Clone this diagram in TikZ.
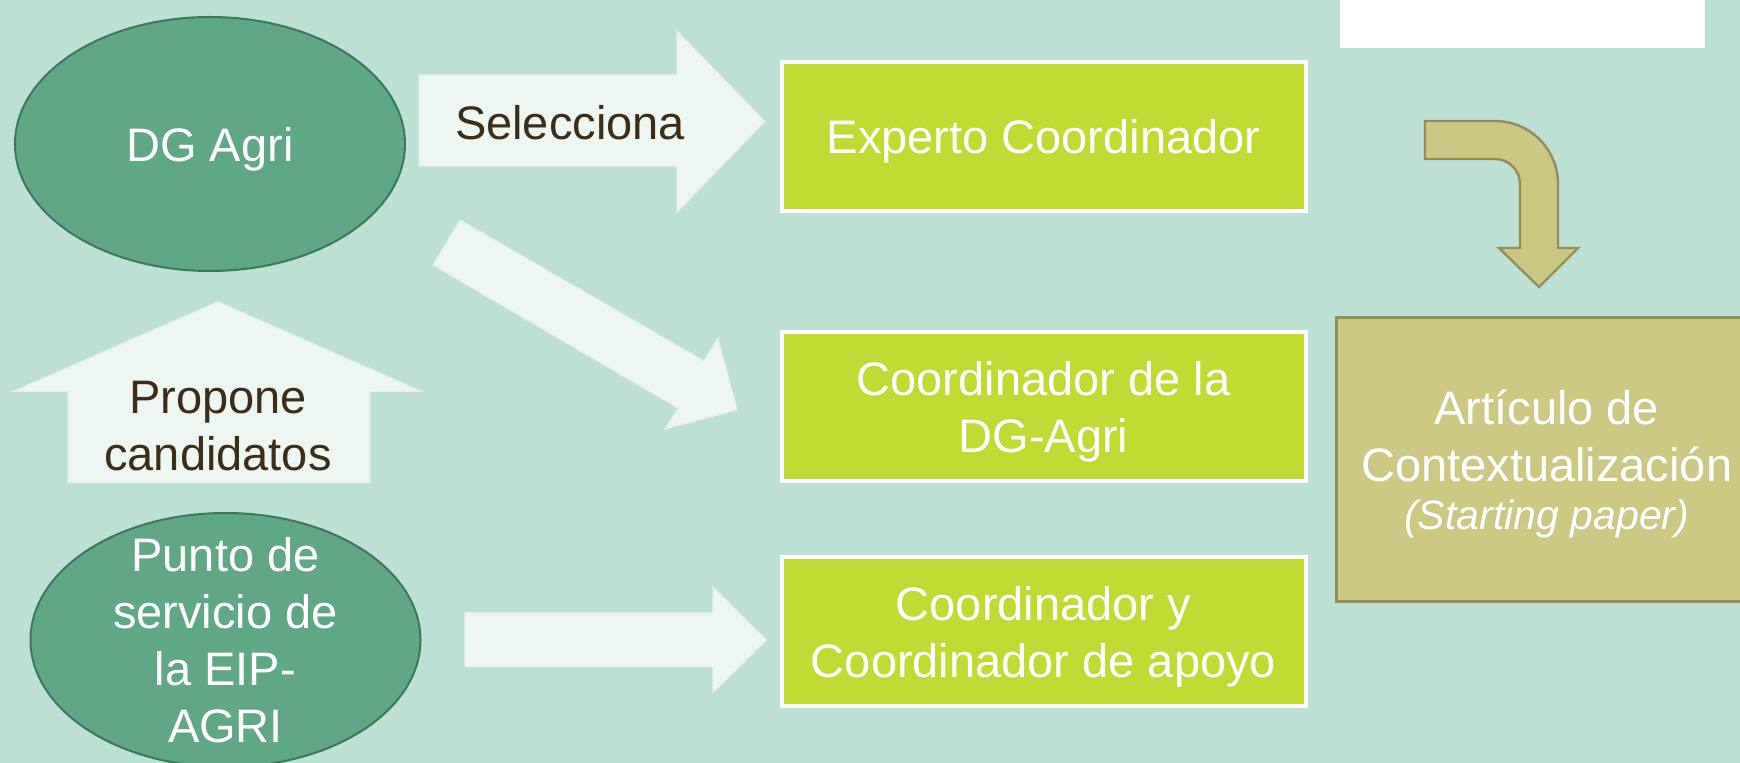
\documentclass[tikz,border=0pt]{standalone}
\usepackage{fontspec}
\setmainfont{Liberation Sans}
\usepackage{tikz}
\usepackage{xcolor}
\usetikzlibrary{shapes.geometric}
\definecolor{slidebg}{RGB}{188,224,211}
\definecolor{agentfill}{RGB}{96,168,133}
\definecolor{agentline}{RGB}{62,120,92}
\definecolor{rolefill}{RGB}{193,217,51}
\definecolor{paperfill}{RGB}{204,200,131}
\definecolor{paperline}{RGB}{146,143,90}
\definecolor{arrowfill}{RGB}{238,246,241}
\definecolor{arrowline}{RGB}{226,240,233}
\definecolor{labelbrown}{RGB}{60,45,25}
\tikzset{
    big-text/.style = {font=\fontsize{23.5}{28.5}\selectfont, align=center, text depth=0pt, inner sep=0pt},
    agent-ellipse/.style = {ellipse, draw=agentline, fill=agentfill, line width=1pt, minimum width=195pt, minimum height=127pt, inner sep=0pt},
    agent-text/.style = {big-text, text=white},
    role-box/.style = {big-text, rectangle, draw=white, fill=rolefill, line width=2pt, minimum width=262pt, minimum height=74.5pt, text=white},
    paper-box/.style = {big-text, rectangle, draw=paperline, fill=paperfill, line width=1.5pt, minimum width=210pt, minimum height=142pt, text=white},
    block-arrow/.style = {fill=arrowfill, draw=arrowline, line width=0.6pt},
    arrow-label/.style = {big-text, text=labelbrown},
    bent-arrow/.style = {fill=paperfill, draw=paperline, line width=1.2pt},
}

\begin{document}
\begin{tikzpicture}[x=0.5pt, y=-0.5pt]
\useasboundingbox (0,0) rectangle (1740,763);
\fill[slidebg] (0,0) rectangle (1740,763);
\fill[white] (1340,0) rectangle (1705,47.7);

\node[agent-ellipse, agent-text] (dgagri) at (210,144) {DG Agri};
\node[agent-ellipse] (punto) at (225.5,640) {};
\node[agent-text] (puntotext) at (punto.center) {Punto de\\servicio de\\la EIP-\\AGRI};

\node[role-box] (experto) at (1043.5,136.5) {Experto Coordinador};
\node[role-box] (coorddg) at (1043.5,406.5) {Coordinador de la\\DG-Agri};
\node[role-box] (coordapoyo) at (1043.5,632) {Coordinador y\\Coordinador de apoyo};

\node[paper-box] (articulo) at (1546.75,459.5) {Artículo de\\Contextualización\\[-4.5pt]{\fontsize{20.5}{24}\selectfont\itshape (Starting paper)}};

\draw[block-arrow] (419,75) -- (677,75) -- (677,31) -- (765,121.5) -- (677,212) -- (677,166) -- (419,166) -- cycle;
\node[arrow-label] (selecciona) at (570,122) {Selecciona};

\draw[block-arrow] (460,220) -- (704,361) -- (718,338) -- (737,410) -- (665,429) -- (678,408) -- (433,265) -- cycle;

\draw[block-arrow] (68,482.7) -- (68,391.5) -- (13,391.5) -- (218,301.7) -- (421.7,391.5) -- (370,391.5) -- (370,482.7) -- cycle;
\node[arrow-label] (propone) at (218,425.5) {Propone\\candidatos};

\draw[block-arrow] (465,612.7) -- (713,612.7) -- (713,586.7) -- (766.7,640) -- (713,692.7) -- (713,666.7) -- (465,666.7) -- cycle;

\draw[bent-arrow] (1425,121) -- (1495,121) .. controls (1529.8,121) and (1558,149.2) .. (1558,184)
    -- (1558,248) -- (1578,248) -- (1539,287) -- (1499,248) -- (1520,248) -- (1520,184)
    .. controls (1520,170.2) and (1508.8,159) .. (1495,159) -- (1425,159) -- cycle;
\end{tikzpicture}
\end{document}
